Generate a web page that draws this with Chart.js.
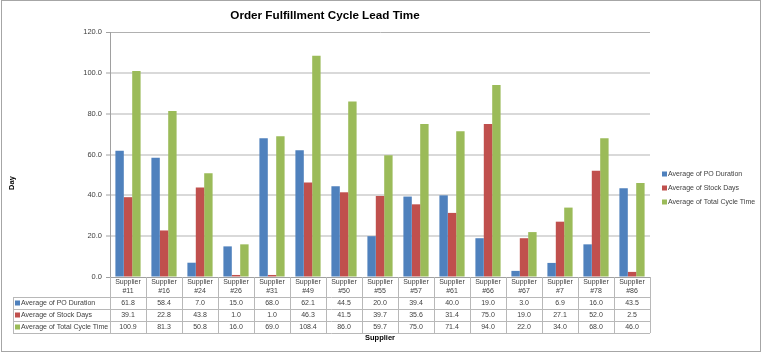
<!DOCTYPE html>
<html>
<head>
<meta charset="utf-8">
<script src="https://cdn.jsdelivr.net/npm/chart.js@4"></script>
<style>
  html, body { margin: 0; padding: 0; background: #fff; }
  #wrap { width: 762px; height: 353px; }
</style>
</head>
<body>
<div id="wrap"><canvas id="chart" width="762" height="353"></canvas></div>
<script>
// サプライヤー（カテゴリ）
const suppliers = ['#11', '#16', '#24', '#26', '#31', '#49', '#50', '#55', '#57', '#61', '#66', '#67', '#7', '#78', '#86'];

// 系列データ
const poDuration = [61.8, 58.4, 7.0, 15.0, 68.0, 62.1, 44.5, 20.0, 39.4, 40.0, 19.0, 3.0, 6.9, 16.0, 43.5];
const stockDays  = [39.1, 22.8, 43.8, 1.0, 1.0, 46.3, 41.5, 39.7, 35.6, 31.4, 75.0, 19.0, 27.1, 52.0, 2.5];
const totalCycle = [100.9, 81.3, 50.8, 16.0, 69.0, 108.4, 86.0, 59.7, 75.0, 71.4, 94.0, 22.0, 34.0, 68.0, 46.0];

const seriesNames = ['Average of PO Duration', 'Average of Stock Days', 'Average of Total Cycle Time'];
const seriesColors = ['#4f81bd', '#c0504d', '#9bbb59'];

// Y軸目盛
const yTicks = [0, 20, 40, 60, 80, 100, 120];

const FONT = "'Liberation Sans', Arial, sans-serif";
const TEXT = '#404040';

// データテーブル・凡例・軸タイトルを描く
const tablePlugin = {
  id: 'dataTable',
  afterDraw(chart) {
    const ctx = chart.ctx;
    const area = chart.chartArea;
    const x = chart.scales.x;
    const n = suppliers.length;
    const cw = (x.right - x.left) / n;
    const top = area.bottom;
    const rows = [top, top + 20, top + 32, top + 44, top + 56];
    const tableLeft = 13;
    const sets = chart.data.datasets;

    ctx.save();
    ctx.strokeStyle = '#b8b8b8';
    ctx.lineWidth = 1;
    ctx.beginPath();
    for (let r = 1; r < rows.length; r++) {
      const py = Math.round(rows[r]) + 0.5;
      ctx.moveTo(tableLeft, py);
      ctx.lineTo(x.right, py);
    }
    for (let i = 0; i <= n; i++) {
      const px = Math.round(x.left + cw * i) + 0.5;
      ctx.moveTo(px, top);
      ctx.lineTo(px, rows[4]);
    }
    ctx.moveTo(tableLeft + 0.5, rows[1]);
    ctx.lineTo(tableLeft + 0.5, rows[4]);
    ctx.stroke();

    // 表の数値
    ctx.font = '7px ' + FONT;
    ctx.textBaseline = 'middle';
    sets.forEach((ds, d) => {
      const midY = (rows[d + 1] + rows[d + 2]) / 2;
      ctx.fillStyle = ds.backgroundColor;
      ctx.fillRect(tableLeft + 2, midY - 2.5, 5, 5);
      ctx.fillStyle = TEXT;
      ctx.textAlign = 'left';
      ctx.fillText(ds.label, tableLeft + 8, midY);
      ctx.textAlign = 'center';
      ds.data.forEach((v, i) => {
        ctx.fillText(v.toFixed(1), x.getPixelForValue(i), midY);
      });
    });

    // 凡例
    const lx = area.right + 12;
    sets.forEach((ds, d) => {
      const ly = 174 + d * 14;
      ctx.fillStyle = ds.backgroundColor;
      ctx.fillRect(lx, ly - 2.5, 5, 5);
      ctx.fillStyle = TEXT;
      ctx.textAlign = 'left';
      ctx.fillText(ds.label, lx + 6, ly);
    });

    // Y軸タイトル
    ctx.save();
    ctx.translate(12, 183);
    ctx.rotate(-Math.PI / 2);
    ctx.font = 'bold 7.5px ' + FONT;
    ctx.fillStyle = '#000';
    ctx.textAlign = 'center';
    ctx.fillText('Day', 0, 0);
    ctx.restore();

    // 外枠
    ctx.strokeStyle = '#a6a6a6';
    ctx.strokeRect(1.5, 0.5, 759, 351);
    ctx.restore();
  }
};

const ctx = document.getElementById('chart').getContext('2d');
new Chart(ctx, {
  type: 'bar',
  data: {
    labels: suppliers.map(s => ['Supplier', s]),
    datasets: [poDuration, stockDays, totalCycle].map((data, i) => ({
      label: seriesNames[i],
      data: data,
      backgroundColor: seriesColors[i],
      categoryPercentage: 0.7,
      barPercentage: 1.0
    }))
  },
  options: {
    responsive: false,
    devicePixelRatio: 1,
    animation: false,
    layout: { padding: { left: 0, right: 112, top: 0, bottom: 10 } },
    plugins: {
      legend: { display: false },
      tooltip: { enabled: false },
      title: {
        display: true,
        text: 'Order Fulfillment Cycle Lead Time',
        color: '#000',
        font: { family: FONT, size: 11.7, weight: 'bold' },
        padding: { top: 9, bottom: 9 }
      }
    },
    scales: {
      x: {
        grid: { display: false, drawTicks: false },
        border: { display: true, color: '#a0a0a0', width: 1 },
        ticks: {
          color: TEXT,
          font: { family: FONT, size: 7, lineHeight: 1.25 },
          padding: 1,
          maxRotation: 0,
          autoSkip: false
        },
        title: {
          display: true,
          text: 'Supplier',
          color: '#000',
          font: { family: FONT, size: 7.5, weight: 'bold' },
          padding: { top: 0, bottom: 1 }
        },
        afterFit: (scale) => { scale.height = 66; }
      },
      y: {
        min: 0,
        max: 120,
        afterBuildTicks: (scale) => { scale.ticks = yTicks.map(v => ({ value: v })); },
        ticks: {
          color: TEXT,
          font: { family: FONT, size: 7.5 },
          padding: 4,
          callback: (v) => v.toFixed(1)
        },
        grid: {
          color: (c) => (c.tick && c.tick.value === 120) ? '#b0b0b0' : (c.tick && c.tick.value === 0 ? '#a0a0a0' : '#d9d9d9'),
          lineWidth: (c) => (c.tick && (c.tick.value === 120 || c.tick.value === 0)) ? 1 : 2,
          tickLength: 4,
          tickColor: '#a0a0a0',
          tickWidth: 1
        },
        border: { display: true, color: '#a0a0a0', width: 1 },
        afterFit: (scale) => { scale.width = 110; }
      }
    }
  },
  plugins: [tablePlugin]
});
</script>
</body>
</html>
